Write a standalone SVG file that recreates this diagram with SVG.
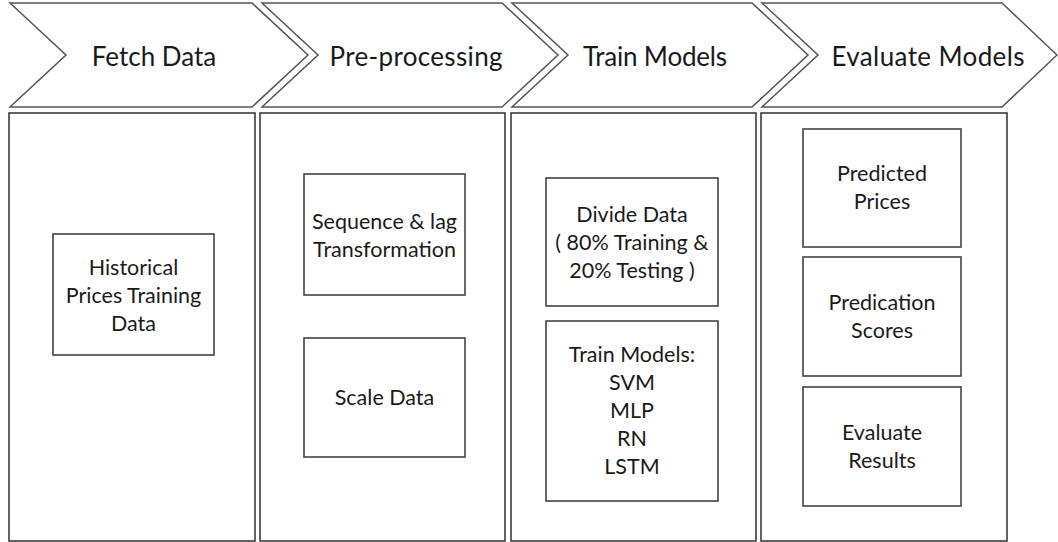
<svg xmlns="http://www.w3.org/2000/svg" width="1058" height="542" viewBox="0 0 1058 542">
  <style>
    .chev { fill: #ffffff; stroke: #555555; stroke-width: 1.5; stroke-linejoin: miter; }
    .lane { fill: #ffffff; stroke: #3c3c3c; stroke-width: 1.6; }
    .step { fill: #ffffff; stroke: #444444; stroke-width: 1.6; }
    .head { font-family: Lato, "Open Sans", "Liberation Sans", sans-serif; font-size: 26px; fill: #1a1a1a; text-anchor: middle; }
    .lbl { font-family: Lato, "Open Sans", "Liberation Sans", sans-serif; font-size: 21.5px; fill: #1a1a1a; text-anchor: middle; }
  </style>
  <rect width="1058" height="542" fill="#ffffff"/>

  <!-- Stage chevrons -->
  <g id="stage-fetch">
    <polygon class="chev" points="10,3 252,3 308,55 252,107 10,107 66,55"/>
    <text class="head" x="154" y="66">Fetch Data</text>
  </g>
  <g id="stage-preprocess">
    <polygon class="chev" points="262,3 502,3 558,55 502,107 262,107 318,55"/>
    <text class="head" x="416" y="66" textLength="173" lengthAdjust="spacing">Pre-processing</text>
  </g>
  <g id="stage-train">
    <polygon class="chev" points="512,3 752,3 808,55 752,107 512,107 568,55"/>
    <text class="head" x="655" y="66" textLength="144" lengthAdjust="spacing">Train Models</text>
  </g>
  <g id="stage-evaluate">
    <polygon class="chev" points="762,3 1002,3 1057,55 1002,107 762,107 818,55"/>
    <text class="head" x="928" y="66" textLength="193" lengthAdjust="spacing">Evaluate Models</text>
  </g>

  <!-- Stage lanes -->
  <g id="lane-fetch">
    <rect class="lane" x="9" y="113" width="246" height="428"/>
  </g>
  <g id="lane-preprocess">
    <rect class="lane" x="260" y="113" width="245" height="428"/>
  </g>
  <g id="lane-train">
    <rect class="lane" x="511" y="113" width="245" height="428"/>
  </g>
  <g id="lane-evaluate">
    <rect class="lane" x="761" y="113" width="246" height="428"/>
  </g>

  <!-- Steps -->
  <g id="historical-data">
    <rect class="step" x="53" y="234" width="161" height="121"/>
    <text class="lbl" x="133.5" y="275">Historical</text>
    <text class="lbl" x="133.5" y="303">Prices Training</text>
    <text class="lbl" x="133.5" y="331">Data</text>
  </g>
  <g id="sequence-lag">
    <rect class="step" x="304" y="174" width="161" height="121"/>
    <text class="lbl" x="384.5" y="229">Sequence &amp; lag</text>
    <text class="lbl" x="384.5" y="257">Transformation</text>
  </g>
  <g id="scale-data">
    <rect class="step" x="304" y="338" width="161" height="119"/>
    <text class="lbl" x="384.5" y="405">Scale Data</text>
  </g>
  <g id="divide-data">
    <rect class="step" x="546" y="178" width="172" height="128"/>
    <text class="lbl" x="632" y="222">Divide Data</text>
    <text class="lbl" x="632" y="250">( 80% Training &amp;</text>
    <text class="lbl" x="632" y="278">20% Testing )</text>
  </g>
  <g id="train-models">
    <rect class="step" x="546" y="321" width="172" height="180"/>
    <text class="lbl" x="632" y="362">Train Models:</text>
    <text class="lbl" x="632" y="390">SVM</text>
    <text class="lbl" x="632" y="418">MLP</text>
    <text class="lbl" x="632" y="446">RN</text>
    <text class="lbl" x="632" y="474">LSTM</text>
  </g>
  <g id="predicted-prices">
    <rect class="step" x="803" y="129" width="158" height="118"/>
    <text class="lbl" x="882" y="181">Predicted</text>
    <text class="lbl" x="882" y="209">Prices</text>
  </g>
  <g id="prediction-scores">
    <rect class="step" x="803" y="257" width="158" height="119"/>
    <text class="lbl" x="882" y="310">Predication</text>
    <text class="lbl" x="882" y="338">Scores</text>
  </g>
  <g id="evaluate-results">
    <rect class="step" x="803" y="387" width="158" height="119"/>
    <text class="lbl" x="882" y="440">Evaluate</text>
    <text class="lbl" x="882" y="468">Results</text>
  </g>

  <g id="connectors"></g>
</svg>
